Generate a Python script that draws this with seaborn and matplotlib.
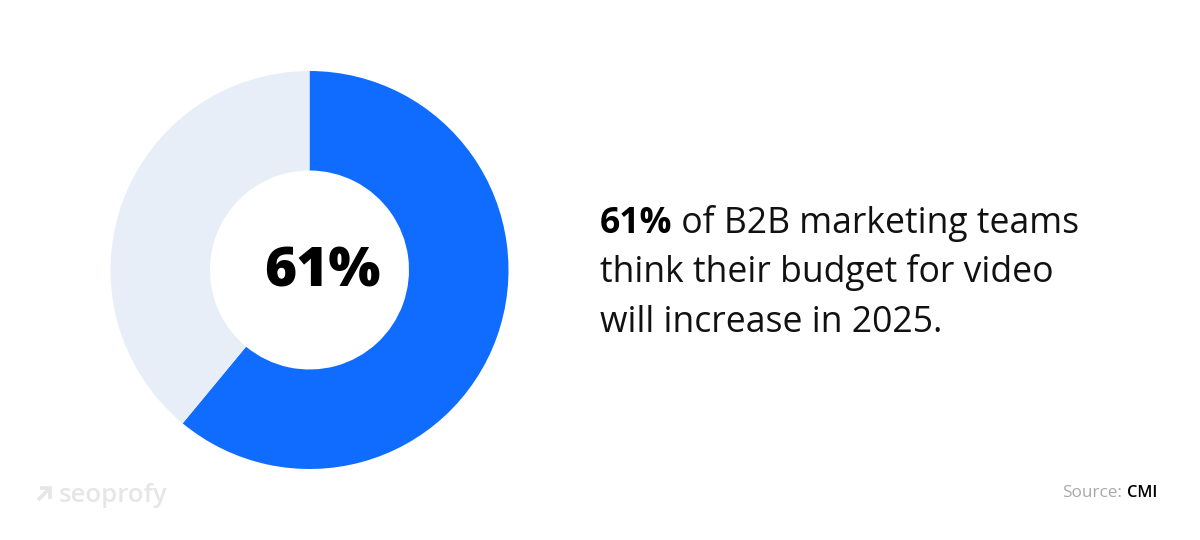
import matplotlib
matplotlib.use("Agg")
import matplotlib.pyplot as plt
import seaborn as sns

sns.set_theme(style="white")
plt.rcParams['font.family'] = ['Open Sans', 'DejaVu Sans']

shares = [61, 39]
slice_names = ["Increase", "Other"]
slice_colors = ["#0F6CFF", "#E8EEF8"]
center_label = "61%"
lead_bold = "61%"
lead_rest = " of B2B marketing teams"
body_lines = ["think their budget for video", "will increase in 2025."]
source_prefix = "Source:"
source_name = "CMI"
brand = "seoprofy"

fig = plt.figure(figsize=(12, 5.4), dpi=100, facecolor="white")
ax = fig.add_axes([0, 0, 1, 1])
ax.set_xlim(0, 1200)
ax.set_ylim(540, 0)
ax.axis("off")

pie_ax = fig.add_axes([110.5/1200, 1-469/540, 398/1200, 398/540])
pie_ax.pie(shares, colors=slice_colors, startangle=90, counterclock=False, radius=1,
           wedgeprops=dict(width=0.5, linewidth=0))
pie_ax.set_xlim(-1, 1); pie_ax.set_ylim(-1, 1)
pie_ax.text(0.065, -0.01, center_label, ha="center", va="center", fontsize=39.5,
            fontweight="heavy", color="black", family="Open Sans")

fs = 25.6
c = "#111111"
fam = "Open Sans"
t = ax.text(600, 233, lead_bold, fontsize=fs, fontweight="bold", color="black", va="baseline", family=fam)
fig.canvas.draw()
bb = t.get_window_extent()
ax.text(bb.x1, 233, lead_rest, fontsize=fs, color=c, va="baseline", family=fam)
ax.text(600, 282, body_lines[0], fontsize=fs, color=c, va="baseline", family=fam)
ax.text(600, 332, body_lines[1], fontsize=fs, color=c, va="baseline", family=fam)

ax.text(1122, 493, source_prefix, fontsize=12.3, color="#A8A8A8", va="center", ha="right", family=fam)
ax.text(1127, 493, source_name, fontsize=11.8, color="black", va="center", ha="left", family=fam, fontweight="semibold")

logo = "#E6E6E6"
ax.text(59, 495, brand, fontsize=18.5, color=logo, va="center", ha="left", family=fam, fontweight="semibold")
ax.plot([38, 49.5], [500, 488.5], color=logo, lw=2.6, solid_capstyle="butt")
ax.plot([39.5, 50, 50], [488, 488, 498.5], color=logo, lw=2.6, solid_joinstyle="miter", solid_capstyle="butt")

fig.savefig("out.png", dpi=100, facecolor="white")
